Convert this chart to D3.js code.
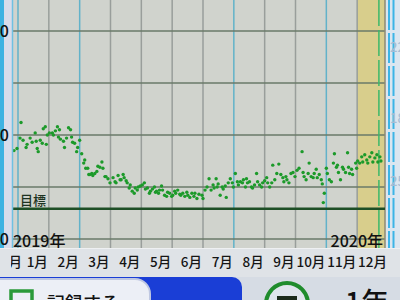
<!DOCTYPE html>
<html>
<head>
<meta charset="utf-8">
<script src="https://cdn.jsdelivr.net/npm/d3@7"></script>
<style>
body { margin: 0; background: #dfe3e7; overflow: hidden; }
svg { display: block; }
text { font-family: "Noto Sans CJK JP", "Noto Sans", sans-serif; font-weight: 500; }
</style>
</head>
<body>
<svg id="chart" width="400" height="300"></svg>
<script>
// month columns: the first one is the tail of the previous year
var monthLabels = ["12月", "1月", "2月", "3月", "4月", "5月", "6月", "7月", "8月", "9月", "10月", "11月", "12月"];
var yearLabels = ["2019年", "2020年"];
var gridValues = [50, 55, 60, 65, 70];
var labelValues = [50, 60, 70];
var goalWeight = 52.9;
var todayDay = 357;

// day offset from 1 Jan, weight in kg
var days = [
  -4, -1, 2, 3, 5, 8, 9, 12, 14, 17, 18, 19, 20, 22, 24, 25, 27, 28, 29, 31,
  34, 35, 37, 39, 40, 41, 42, 45, 46, 48, 50, 52, 53, 54, 56, 58, 59, 61, 63,
  65, 66, 67, 69, 70, 71, 73, 74, 76, 78, 79, 81, 83, 84, 86, 87, 89, 91, 94, 96,
  97, 99, 101, 102, 104, 105, 107, 108, 110, 111, 113, 115, 116, 118, 119, 121, 123, 125, 126, 128,
  130, 131, 133, 135, 136, 137, 139, 140, 142, 143, 145, 147, 148, 150, 152, 153, 155, 156, 158, 160,
  161, 163, 165, 167, 168, 170, 172, 174, 175, 177, 179,
  182, 183, 185, 187, 189, 191, 193, 194, 196, 197, 198, 200, 202, 203, 205, 206, 208, 210, 212, 213,
  215, 217, 218, 220, 222, 223, 225, 226, 227, 229, 231, 232, 234, 236, 237, 239, 241, 242, 244, 246,
  247, 249, 251, 252, 254, 256, 258, 260, 262, 263, 265, 266, 268, 270, 272, 274, 276, 278,
  281, 282, 283, 285, 287, 288, 290, 292, 293, 295, 296, 298, 300, 301, 302, 303, 305, 306, 308, 310,
  312, 313, 315, 316, 317, 319, 321, 322, 324, 326, 327, 328, 330, 331, 334, 335, 336, 338, 340, 341,
  343, 345, 346, 348, 350, 351, 353, 355, 356, 358, 359
];
var weights = [
  58.5, 58.7, 59.7, 61.2, 59.5, 58.8, 59.1, 59.7, 59.3, 60.2, 59.4, 58.7, 58.4, 59.5, 59.2, 60.6, 60.8, 59.1, 60.0, 60.2,
  60.2, 60.0, 60.4, 60.8, 59.8, 60.5, 59.6, 59.4, 58.8, 59.7, 60.7, 60.5, 59.8, 59.3, 59.2, 58.4, 58.8, 59.5, 58.2,
  57.3, 57.6, 56.8, 56.8, 56.2, 56.2, 56.3, 56.1, 56.3, 56.5, 57.0, 56.9, 57.4, 56.8, 56.0, 56.0, 55.8, 55.4, 55.9, 55.5,
  55.4, 56.1, 55.7, 55.7, 56.2, 55.9, 55.6, 55.4, 54.9, 55.2, 54.6, 54.4, 54.9, 54.7, 55.0, 55.1, 55.2, 55.4, 54.8, 54.9,
  54.4, 54.6, 54.8, 55.0, 54.5, 54.6, 54.4, 54.7, 55.1, 54.7, 54.2, 54.1, 54.5, 54.4, 54.1, 54.2, 54.6, 54.4, 54.7, 54.3,
  54.2, 54.4, 54.1, 54.5, 54.2, 54.0, 54.4, 54.1, 54.4, 53.9, 54.3,
  54.2, 53.9, 54.7, 55.0, 55.8, 54.7, 55.2, 54.9, 55.8, 55.0, 55.3, 54.2, 55.0, 54.8, 55.1, 54.0, 55.4, 55.8, 55.4, 55.0,
  56.3, 55.5, 55.2, 55.5, 55.4, 55.7, 55.0, 55.8, 55.4, 55.5, 55.0, 54.9, 55.2, 56.3, 55.5, 55.2, 55.0, 55.4, 55.6, 55.9,
  55.4, 55.0, 55.4, 57.1, 55.7, 56.3, 57.2, 56.2, 55.9, 55.5, 56.0, 55.7, 55.4, 56.3, 56.4, 56.0, 56.6, 56.8,
  58.4, 56.4, 56.0, 55.7, 56.3, 57.3, 56.0, 55.9, 56.3, 56.7, 55.9, 56.2, 55.7, 55.3, 53.5, 54.4, 56.8, 56.3, 55.7, 55.5,
  57.3, 58.2, 56.9, 57.1, 56.4, 55.7, 56.9, 56.7, 56.4, 58.3, 56.9, 56.3, 56.7, 56.2, 57.3, 56.8, 57.5, 57.3, 57.9, 57.4,
  58.1, 57.6, 57.3, 57.9, 58.3, 57.4, 57.8, 58.1, 57.4, 57.9, 57.5
];

var plot = { left: 13, right: 385, top: 0, bottom: 248 };

var svg = d3.select("#chart");

var xDay = d3.scaleLinear().domain([0, 366]).range([18, 388]);
// the device draws every month as an equal column
var xMonth = d3.scaleLinear().domain([-1, 12]).range([18 - 370 / 12, 388]);
var y = d3.scaleLinear().domain([50, 60]).range([239, 135]);

var points = days.map(function(d, i) { return { day: d, kg: weights[i] }; });

// plot background and current month band
svg.append("rect")
    .attr("x", plot.left).attr("y", plot.top)
    .attr("width", plot.right - plot.left).attr("height", plot.bottom - plot.top)
    .attr("fill", "#d0d3cd");

svg.append("rect")
    .attr("x", xMonth(11)).attr("y", plot.top)
    .attr("width", plot.right - xMonth(11)).attr("height", plot.bottom - plot.top)
    .attr("fill", "#d8ce8c");

// month grid (a few lines look bluish on the screen)
var blueCols = [0, 2, 7, 10];
svg.append("g").selectAll("line")
    .data(d3.range(0, 12))
    .enter().append("line")
    .attr("x1", d => xMonth(d)).attr("x2", d => xMonth(d))
    .attr("y1", plot.top).attr("y2", plot.bottom)
    .attr("stroke", d => blueCols.indexOf(d) >= 0 ? "#62b2c9" : "#999e9b")
    .attr("stroke-width", 1.5);

// horizontal grid
svg.append("g").selectAll("line")
    .data(gridValues)
    .enter().append("line")
    .attr("x1", plot.left).attr("x2", plot.right)
    .attr("y1", d => y(d)).attr("y2", d => y(d))
    .attr("stroke", "#6a7a68")
    .attr("stroke-width", 1.3);

svg.append("line")
    .attr("x1", plot.right).attr("x2", plot.right)
    .attr("y1", plot.top).attr("y2", plot.bottom)
    .attr("stroke", "#8c8a76").attr("stroke-width", 1.5);

// today marker
svg.append("line")
    .attr("x1", xDay(todayDay)).attr("x2", xDay(todayDay))
    .attr("y1", plot.top).attr("y2", plot.bottom)
    .attr("stroke", "#3cb86a")
    .attr("stroke-width", 1.5)
    .attr("stroke-dasharray", "26,4");

// goal line
svg.append("line")
    .attr("x1", plot.left).attr("x2", plot.right)
    .attr("y1", y(goalWeight)).attr("y2", y(goalWeight))
    .attr("stroke", "#1e4f26")
    .attr("stroke-width", 2.5);

svg.append("text")
    .attr("x", 20).attr("y", y(goalWeight) - 4)
    .style("font-size", "13px")
    .attr("fill", "#1d3322")
    .text("目標");

// measurements
svg.append("g").selectAll("circle")
    .data(points)
    .enter().append("circle")
    .attr("cx", d => xDay(d.day))
    .attr("cy", d => y(d.kg))
    .attr("r", 1.7)
    .attr("fill", "#1c9a2a");

// year labels
svg.append("text")
    .attr("x", 13).attr("y", 247)
    .style("font-size", "16px")
    .attr("fill", "#111")
    .text(yearLabels[0]);

svg.append("text")
    .attr("x", 383).attr("y", 247)
    .attr("text-anchor", "end")
    .style("font-size", "16px")
    .attr("fill", "#111")
    .text(yearLabels[1]);

// left scale strip
svg.append("rect").attr("x", 0).attr("y", 0).attr("width", 13).attr("height", plot.bottom).attr("fill", "#d9dcea");
svg.append("rect").attr("x", 0).attr("y", 0).attr("width", 4).attr("height", plot.bottom).attr("fill", "#3fb2e2");
svg.append("line").attr("x1", 12.5).attr("x2", 12.5).attr("y1", 0).attr("y2", plot.bottom)
    .attr("stroke", "#6fc0e2").attr("stroke-width", 1.5);

// only the last digit shows at the frame edge
svg.append("g").selectAll("text")
    .data(labelValues)
    .enter().append("text")
    .attr("x", 9)
    .attr("y", d => y(d) + 6)
    .attr("text-anchor", "end")
    .style("font-size", "16px")
    .attr("fill", "#111")
    .text(d => d);

// right scale strip (mostly cut off)
svg.append("rect").attr("x", plot.right + 1).attr("y", 0).attr("width", 15).attr("height", plot.bottom).attr("fill", "#dbe6f0");
svg.append("g").selectAll("line")
    .data([389, 393.5])
    .enter().append("line")
    .attr("x1", d => d).attr("x2", d => d)
    .attr("y1", 0).attr("y2", plot.bottom)
    .attr("stroke", "#3cb4e6")
    .attr("stroke-width", 2)
    .attr("stroke-dasharray", "30,3");
svg.append("g").selectAll("text")
    .data([["22", 52], ["18", 123], ["25", 186]])
    .enter().append("text")
    .attr("x", 390).attr("y", d => d[1])
    .style("font-size", "13px")
    .attr("fill", "#a6bdd4")
    .text(d => d[0]);

// month strip
svg.append("line").attr("x1", 0).attr("x2", 400).attr("y1", 248.5).attr("y2", 248.5)
    .attr("stroke", "#eef0f2").attr("stroke-width", 1);

svg.append("clipPath").attr("id", "monthClip")
    .append("rect").attr("x", 11).attr("y", 248).attr("width", 389).attr("height", 30);

svg.append("g").attr("clip-path", "url(#monthClip)")
    .selectAll("text")
    .data(monthLabels)
    .enter().append("text")
    .attr("x", (d, i) => xMonth(i) + (i === 0 ? 4 : -1))
    .attr("y", 267)
    .attr("text-anchor", "end")
    .style("font-size", "13.5px")
    .attr("fill", "#151515")
    .text(d => d);

// bottom buttons (cut off by the frame)
svg.append("rect").attr("x", 0).attr("y", 277).attr("width", 400).attr("height", 23).attr("fill", "#d6dce4");
svg.append("rect").attr("x", -20).attr("y", 277).attr("width", 262).attr("height", 40).attr("rx", 10)
    .attr("fill", "#1a3ed6");
svg.append("rect").attr("x", -20).attr("y", 279).attr("width", 170).attr("height", 40).attr("rx", 15)
    .attr("fill", "#eceff6").attr("stroke", "#bfc8e2").attr("stroke-width", 2);
svg.append("rect").attr("x", 11).attr("y", 291).attr("width", 21).attr("height", 20)
    .attr("fill", "none").attr("stroke", "#2a9a3a").attr("stroke-width", 3.5);
svg.append("text").attr("x", 47).attr("y", 310)
    .style("font-size", "18px").attr("fill", "#111").text("記録する");

svg.append("circle").attr("cx", 287).attr("cy", 304).attr("r", 21)
    .attr("fill", "#dfe5ec").attr("stroke", "#1f8c2c").attr("stroke-width", 4);
svg.append("rect").attr("x", 277).attr("y", 296).attr("width", 20).attr("height", 6).attr("fill", "#1c2b1c");
svg.append("text").attr("x", 345).attr("y", 313)
    .style("font-size", "28px").attr("fill", "#111").text("1年");
</script>
</body>
</html>
